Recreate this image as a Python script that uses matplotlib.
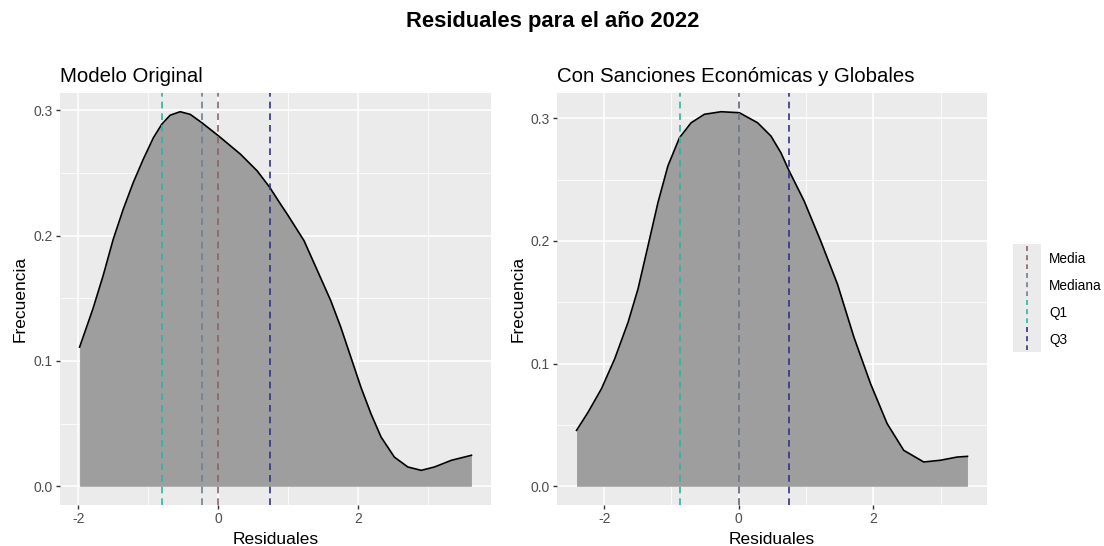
import matplotlib
matplotlib.use("Agg")
import matplotlib.pyplot as plt
import numpy as np

plt.rcParams['font.family'] = ['Liberation Sans', 'DejaVu Sans']

# Density curves (residual, density)
orig_x = [-1.98, -1.79, -1.644, -1.50, -1.357, -1.214, -1.071, -0.927, -0.807, -0.688,
          -0.545, -0.401, -0.234, 0.004, 0.315, 0.555, 0.736, 0.889, 0.985, 1.223,
          1.415, 1.606, 1.749, 1.892, 2.036, 2.179, 2.323, 2.513, 2.705, 2.896,
          3.087, 3.326, 3.613]
orig_y = [0.111, 0.1415, 0.168, 0.197, 0.221, 0.2423, 0.2609, 0.278, 0.2888, 0.296,
          0.2988, 0.2967, 0.290, 0.2795, 0.265, 0.2516, 0.2383, 0.225, 0.217, 0.196,
          0.172, 0.148, 0.1268, 0.103, 0.079, 0.0579, 0.0393, 0.0233, 0.0154, 0.0127,
          0.0154, 0.0207, 0.0247]

sanc_x = [-2.41, -2.237, -2.04, -1.843, -1.644, -1.496, -1.348, -1.20, -1.052, -0.88,
          -0.707, -0.51, -0.262, 0.009, 0.281, 0.479, 0.627, 0.75, 0.972, 1.219,
          1.467, 1.713, 1.96, 2.207, 2.453, 2.75, 2.997, 3.244, 3.40]
sanc_y = [0.0456, 0.0605, 0.0795, 0.1039, 0.1337, 0.161, 0.196, 0.2313, 0.2612, 0.2842,
          0.2964, 0.3033, 0.3054, 0.3046, 0.2964, 0.2856, 0.272, 0.2571, 0.2327, 0.200,
          0.165, 0.1215, 0.0836, 0.051, 0.0293, 0.0198, 0.0212, 0.0238, 0.0244]

# Summary statistics (Media, Mediana, Q1, Q3)
stat_names = ["Media", "Mediana", "Q1", "Q3"]
stat_colors = ["#8b6464", "#6f7f93", "#2ab5a5", "#30308a"]
orig_stats = [0.0, -0.234, -0.80, 0.736]
sanc_stats = [0.0, 0.0, -0.865, 0.75]

panels = [
    ("Modelo Original", orig_x, orig_y, orig_stats),
    ("Con Sanciones Económicas y Globales", sanc_x, sanc_y, sanc_stats),
]

W, H = 1104, 546
fig = plt.figure(figsize=(W / 100, H / 100), dpi=100)

boxes = [(60, 491), (557, 987)]
top_px, bot_px = 93, 505

for (title, xs, ys, stats), (l, r) in zip(panels, boxes):
    ax = fig.add_axes([l / W, 1 - bot_px / H, (r - l) / W, (bot_px - top_px) / H])
    ax.set_facecolor("#EBEBEB")
    for s in ax.spines.values():
        s.set_visible(False)

    xs = np.array(xs)
    ys = np.array(ys)
    ax.fill_between(xs, 0, ys, color="#9E9E9E", lw=0, zorder=2)
    ax.plot(xs, ys, color="black", lw=1.2, zorder=3, solid_joinstyle="round")

    for v, c in zip(stats, stat_colors):
        ax.axvline(v, color=c, lw=1.2, ls=(0, (4, 3)), zorder=4)

    span = xs.max() - xs.min()
    ax.set_xlim(xs.min() - 0.05 * span, xs.max() + 0.05 * span)
    ymax = ys.max()
    ax.set_ylim(-0.05 * ymax, ymax * 1.05)

    ax.set_xticks([-2, 0, 2])
    ax.set_xticklabels(["-2", "0", "2"])
    ax.set_xticks([-1, 1, 3], minor=True)
    ax.set_yticks([0.0, 0.1, 0.2, 0.3])
    ax.set_yticklabels(["0.0", "0.1", "0.2", "0.3"])
    ax.set_yticks([0.05, 0.15, 0.25], minor=True)
    ax.grid(which="major", color="white", lw=1.1, zorder=0)
    ax.grid(which="minor", color="white", lw=0.55, zorder=0)
    ax.set_axisbelow(True)
    ax.tick_params(which="major", length=3, width=1, color="#333333",
                   labelcolor="#4D4D4D", labelsize=10, pad=2)
    ax.tick_params(which="minor", length=0)

    ax.set_xlabel("Residuales", fontsize=12.5, labelpad=4)
    ax.set_ylabel("Frecuencia", fontsize=12.5, labelpad=4)
    ax.set_title(title, loc="left", fontsize=14.7, pad=8)

fig.text(553 / W, 1 - 22 / H, "Residuales para el año 2022",
         ha="center", va="center", fontsize=15.8, fontweight="bold")

# legend drawn as a small key column
lg_top, lg_bot = 244, 352
lax = fig.add_axes([1013 / W, 1 - lg_bot / H, 28 / W, (lg_bot - lg_top) / H])
lax.set_facecolor("#EBEBEB")
lax.set_xlim(0, 1)
lax.set_ylim(len(stat_names), 0)
lax.set_xticks([])
lax.set_yticks([])
for s in lax.spines.values():
    s.set_visible(False)
for i, (name, c) in enumerate(zip(stat_names, stat_colors)):
    lax.plot([0.5, 0.5], [i + 0.08, i + 0.92], color=c, lw=1.2, ls=(0, (3, 2.5)))
    fig.text(1049 / W, 1 - (lg_top + (i + 0.55) * (lg_bot - lg_top) / 4) / H, name,
             ha="left", va="center", fontsize=9.8, color="black")

fig.savefig("out.png", dpi=100)
